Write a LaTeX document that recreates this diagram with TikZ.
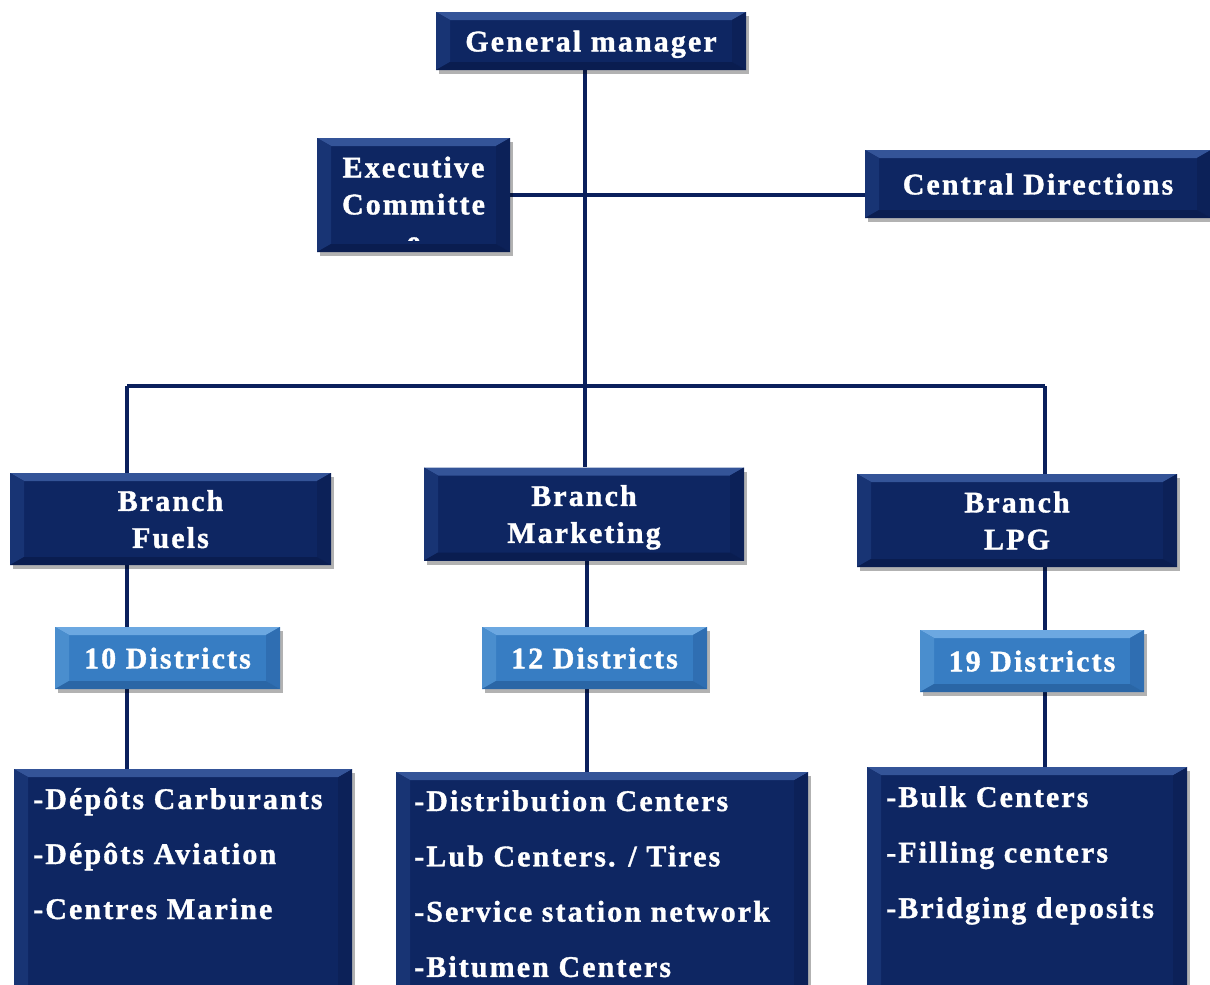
\documentclass[tikz,border=0pt]{standalone}
\usepackage{fontspec}
\setmainfont{Liberation Serif}[LetterSpace=7, FakeBold=1.2]
\usetikzlibrary{calc,shadows,backgrounds}

\definecolor{navy}{RGB}{14,38,98}
\definecolor{navytop}{RGB}{52,84,152}
\definecolor{navyleft}{RGB}{24,52,116}
\definecolor{navyright}{RGB}{12,33,88}
\definecolor{navybot}{RGB}{10,29,80}
\definecolor{sky}{RGB}{55,125,195}
\definecolor{skytop}{RGB}{108,168,225}
\definecolor{skyleft}{RGB}{74,142,206}
\definecolor{skyright}{RGB}{47,110,178}
\definecolor{skybot}{RGB}{42,102,166}
\definecolor{linec}{RGB}{10,32,92}

\tikzset{
  bevel/.style n args={4}{path picture={
    \path (path picture bounding box.south west) coordinate (p1)
          (path picture bounding box.south east) coordinate (p2)
          (path picture bounding box.north east) coordinate (p3)
          (path picture bounding box.north west) coordinate (p4);
    \fill[#1] (p4) -- (p3) -- ([xshift=-14pt,yshift=-8pt]p3) -- ([xshift=14pt,yshift=-8pt]p4) -- cycle; % top
    \fill[#2] (p4) -- (p1) -- ([xshift=14pt,yshift=8pt]p1) -- ([xshift=14pt,yshift=-8pt]p4) -- cycle; % left
    \fill[#3] (p3) -- (p2) -- ([xshift=-14pt,yshift=8pt]p2) -- ([xshift=-14pt,yshift=-8pt]p3) -- cycle; % right
    \fill[#4] (p1) -- (p2) -- ([xshift=-14pt,yshift=8pt]p2) -- ([xshift=14pt,yshift=8pt]p1) -- cycle; % bottom
  }},
  lbl/.style={inner sep=0pt, text=white, align=center,
    font=\bfseries\fontsize{30pt}{37pt}\selectfont, text depth=0pt},
  box/.style={lbl, rectangle, drop shadow={shadow xshift=3pt, shadow yshift=-4pt, opacity=.3, fill=black}},
  navybox/.style={box, fill=navy, bevel={navytop}{navyleft}{navyright}{navybot}},
  skybox/.style={box, fill=sky, bevel={skytop}{skyleft}{skyright}{skybot}},
  item/.style={inner sep=0pt, text=white, anchor=base west, font=\bfseries\fontsize{30pt}{37pt}\selectfont},
  conn/.style={draw=linec, line width=4pt}
}

\begin{document}
\begin{tikzpicture}[x=1pt,y=-1pt]
\clip (0,0) rectangle (1210,985);

%% top level
\node[navybox, minimum width=310pt, minimum height=58pt] (gm) at (591,41) {General manager};
\node[navybox, minimum width=193pt, minimum height=114pt] (exec) at (413.5,195) {};
\begin{scope}
\clip (317,138) rectangle (510,240); % last letter is cut off
\node[lbl] (exectxt) at (413.5,204) {Executive\\Committe\\e};
\end{scope}
\node[navybox, minimum width=346pt, minimum height=68pt] (central) at (1038,184) {Central Directions};

%% branches
\node[navybox, minimum width=321pt, minimum height=92pt] (fuels) at (170.5,519) {Branch\\Fuels};
\node[navybox, minimum width=320pt, minimum height=93pt] (mkt) at (584,514) {Branch\\Marketing};
\node[navybox, minimum width=320pt, minimum height=93pt] (lpg) at (1017,520.5) {Branch\\LPG};

%% districts
\node[skybox, minimum width=225pt, minimum height=62pt] (d10) at (167.5,658) {10 Districts};
\node[skybox, minimum width=225pt, minimum height=62pt] (d12) at (594.5,658) {12 Districts};
\node[skybox, minimum width=224pt, minimum height=62pt] (d19) at (1032,661) {19 Districts};

%% lists (boxes run past the lower edge)
\node[navybox, anchor=north west, minimum width=338pt, minimum height=240pt] (lfuels) at (14,769) {};
\node[navybox, anchor=north west, minimum width=412pt, minimum height=240pt] (lmkt) at (396,772) {};
\node[navybox, anchor=north west, minimum width=320pt, minimum height=240pt] (llpg) at (867,767) {};
\foreach \t [count=\i from 0] in {-Dépôts Carburants, -Dépôts Aviation, -Centres Marine}
  \node[item] (fuels\i) at (33,809+55*\i) {\t};
\foreach \t [count=\i from 0] in {-Distribution Centers, -Lub Centers. / Tires, -Service station network, -Bitumen Centers}
  \node[item] (mkt\i) at (414,811+55.3*\i) {\t};
\foreach \t [count=\i from 0] in {-Bulk Centers, -Filling centers, -Bridging deposits}
  \node[item] (lpg\i) at (886,807+55.5*\i) {\t};

%% connectors
\begin{scope}[on background layer]
\coordinate (hub) at (585,386);
\coordinate (xf) at (127,386);
\coordinate (xl) at (1045,386);
\draw[conn] (hub |- gm.south) -- (hub);
\draw[conn] (exec.east) -- (central.west |- exec.east);
\draw[conn] (xf) -- (xl);
\draw[conn] (xf) -- (xf |- fuels.north);
\draw[conn] (hub) -- (hub |- mkt.north);
\draw[conn] (xl) -- (xl |- lpg.north);
\foreach \b/\d/\l/\xx in {fuels/d10/lfuels/127, mkt/d12/lmkt/587, lpg/d19/llpg/1045}
  {
  \draw[conn] (\xx,0 |- \b.south) -- (\xx,0 |- \d.north);
  \draw[conn] (\xx,0 |- \d.south) -- (\xx,0 |- \l.north);
  }
\end{scope}

\end{tikzpicture}
\end{document}
